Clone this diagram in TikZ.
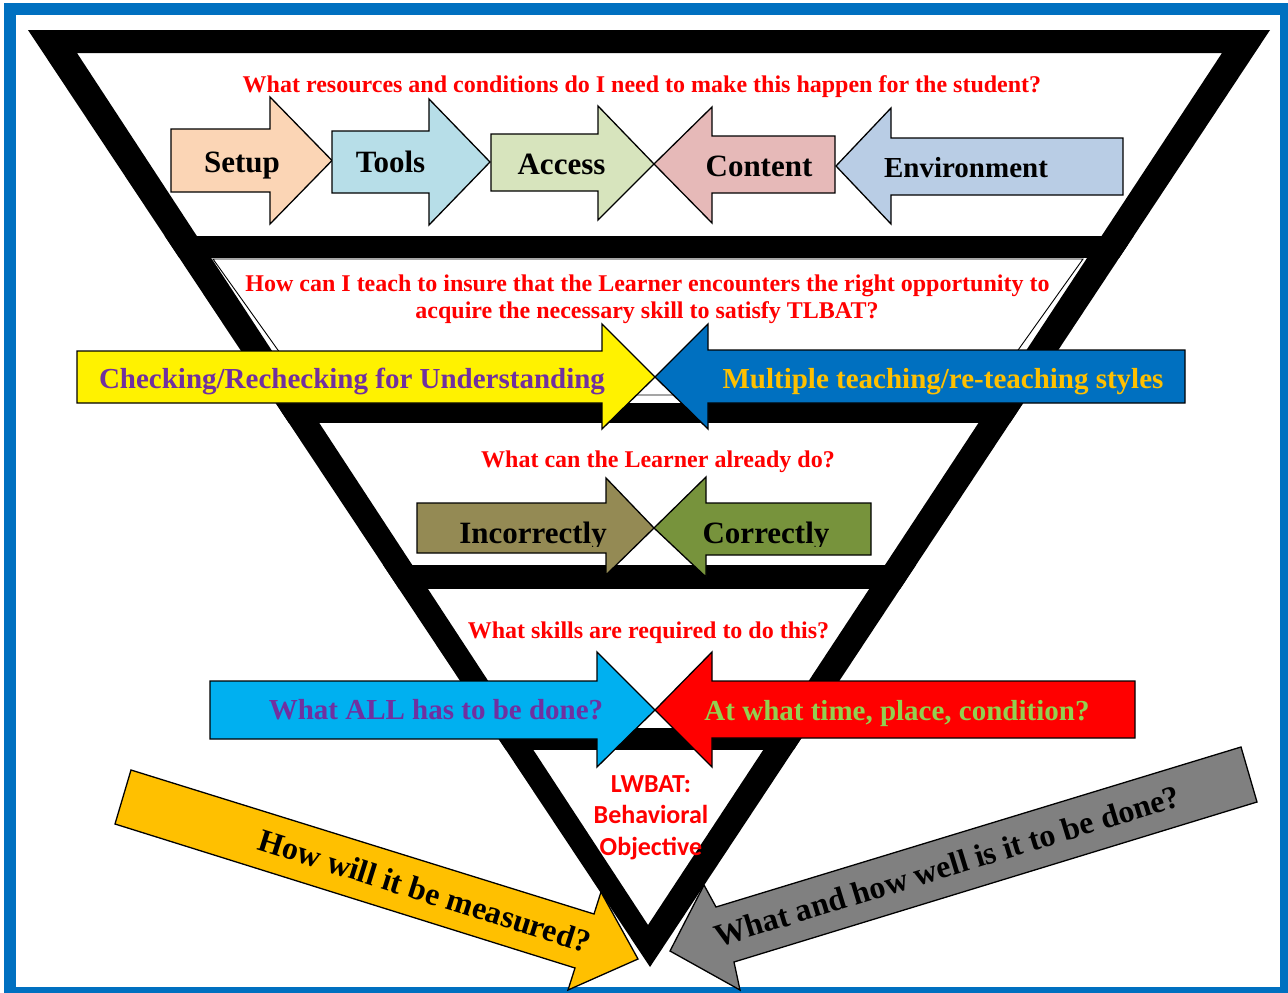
\documentclass[tikz,border=0pt]{standalone}
\usepackage{fontspec}
\setmainfont{Liberation Serif}
\newfontfamily\calfont{Carlito}
\usepackage{tikz}
\definecolor{qRed}{HTML}{FF0000}
\definecolor{cFrame}{HTML}{0070C0}
\definecolor{cPeach}{HTML}{FBD5B5}
\definecolor{cTeal}{HTML}{B7DEE8}
\definecolor{cSage}{HTML}{D7E4BD}
\definecolor{cRose}{HTML}{E6B9B8}
\definecolor{cSteel}{HTML}{B9CDE5}
\definecolor{cKhaki}{HTML}{948A54}
\definecolor{cOlive}{HTML}{77933C}
\definecolor{cCyan}{HTML}{00B0F0}
\definecolor{cGold}{HTML}{FFC000}
\definecolor{cGray}{HTML}{808080}
\definecolor{cPurple}{HTML}{7030A0}
\definecolor{cLime}{HTML}{92D050}
\tikzstyle{bluebox}=[draw=cFrame, line width=12pt]
\tikzstyle{blk}=[draw=black, line width=1.3pt, line join=miter]
\tikzstyle{q}=[text=qRed, font=\fontsize{24}{27}\selectfont\bfseries, inner sep=0pt, anchor=base]
\tikzstyle{big}=[font=\fontsize{31}{31}\selectfont\bfseries, inner sep=0pt, anchor=base]
\tikzstyle{mid}=[font=\fontsize{29}{29}\selectfont\bfseries, inner sep=0pt, anchor=base]
\tikzstyle{slant}=[font=\fontsize{32}{32}\selectfont\bfseries, inner sep=0pt]
\tikzstyle{lw}=[text=qRed, font=\calfont\fontsize{26}{26}\selectfont\bfseries, inner sep=0pt, anchor=base]
\begin{document}
\begin{tikzpicture}[x=1pt, y=-1pt]
	\useasboundingbox (0,0) rectangle (1288,993);
	\draw[bluebox] (10,9) rectangle (1286,993);
	\fill[even odd rule] (28,30) -- (1270,30) -- (650,967) -- cycle (77,53) -- (1222,53) -- (648,925) -- cycle;
	\begin{scope}
		\clip (28,30) -- (1270,30) -- (650,967) -- cycle;
		\fill (0,236) rectangle (1288,258);
		\fill (0,403) rectangle (1288,423);
		\fill (0,565) rectangle (1288,589);
		\fill (0,728) rectangle (1288,750);
	\end{scope}
	\draw[line width=0.9pt, fill=white] (213,259) -- (1083,259) -- (986,395) -- (310,395) -- cycle;
	\draw[blk, fill=cPeach] (171,129) -- (270,129) -- (270,97) -- (332,160.5) -- (270,224) -- (270,192) -- (171,192) -- cycle;
	\draw[blk, fill=cTeal] (332,131) -- (429,131) -- (429,99) -- (490,162) -- (429,225) -- (429,193) -- (332,193) -- cycle;
	\draw[blk, fill=cSage] (491,134) -- (598,134) -- (598,106) -- (654,164) -- (598,220) -- (598,191) -- (491,191) -- cycle;
	\draw[blk, fill=cRose] (835,136) -- (712,136) -- (712,107) -- (654,164) -- (712,223) -- (712,193) -- (835,193) -- cycle;
	\draw[blk, fill=cSteel] (1123,138) -- (891,138) -- (891,108) -- (836,166) -- (891,224) -- (891,195) -- (1123,195) -- cycle;
	\draw[blk, fill=yellow] (77,351) -- (602,351) -- (602,324) -- (655,377) -- (602,429) -- (602,403) -- (77,403) -- cycle;
	\draw[blk, fill=cFrame] (1185,350) -- (708,350) -- (708,324) -- (655,377) -- (708,429) -- (708,403) -- (1185,403) -- cycle;
	\draw[blk, fill=cKhaki] (417,503) -- (606,503) -- (606,478) -- (654,528) -- (606,575) -- (606,553) -- (417,553) -- cycle;
	\draw[blk, fill=cOlive] (871,503) -- (706,503) -- (706,477) -- (654,528) -- (706,577) -- (706,555) -- (871,555) -- cycle;
	\draw[blk, fill=cCyan] (210,681) -- (597,681) -- (597,652) -- (655,710) -- (597,767) -- (597,739) -- (210,739) -- cycle;
	\draw[blk, fill=red] (1135,681) -- (712,681) -- (712,652) -- (655,710) -- (712,767) -- (712,738) -- (1135,738) -- cycle;
	\draw[blk, fill=cGold] (131,770) -- (594,914) -- (601,892) -- (638,959) -- (568,990) -- (575,968) -- (115,824) -- cycle;
	\draw[blk, fill=cGray] (1241,747) -- (716,907) -- (704,885) -- (670,951) -- (740,990) -- (734,962) -- (1257,802) -- cycle;
	\draw (642,92) node[q] (q1) {What resources and conditions do I need to make this happen for the student?};
	\draw (242,172) node[big] (setup) {Setup};
	\draw (390.5,172) node[big] (tools) {Tools};
	\draw (561.5,174) node[big] (access) {Access};
	\draw (759,176) node[big] (content) {Content};
	\draw (966,177) node[mid] (env) {Environment};
	\draw (647.5,291) node[q] (q2a) {How can I teach to insure that the Learner encounters the right opportunity to};
	\draw (647,318) node[q] (q2b) {acquire the necessary skill to satisfy TLBAT?};
	\draw (352,388) node[mid, text=cPurple] (check) {Checking/Rechecking for Understanding};
	\draw (943,388) node[mid, text=cGold] (multi) {Multiple teaching/re-teaching styles};
	\draw (658,467) node[q] (q3) {What can the Learner already do?};
	\begin{scope}
		\clip (400,470) rectangle (900,546);
		\draw (533,543) node[big] (wrong) {Incorrectly};
		\draw (766,543) node[big] (right) {Correctly};
	\end{scope}
	\draw (648.5,638) node[q] (q4) {What skills are required to do this?};
	\draw (436,719) node[mid, text=cPurple] (all) {What ALL has to be done?};
	\draw (897,720) node[mid, text=cLime] (when) {At what time, place, condition?};
	\draw (651,792) node[lw] (lw1) {LWBAT:};
	\draw (651,823) node[lw] (lw2) {Behavioral};
	\draw (651,855) node[lw] (lw3) {Objective};
	\draw (425,891) node[slant, rotate=-17.5] (measure) {How will it be measured?};
	\draw (947,866) node[slant, rotate=17] (howwell) {What and how well is it to be done?};
\end{tikzpicture}
\end{document}
